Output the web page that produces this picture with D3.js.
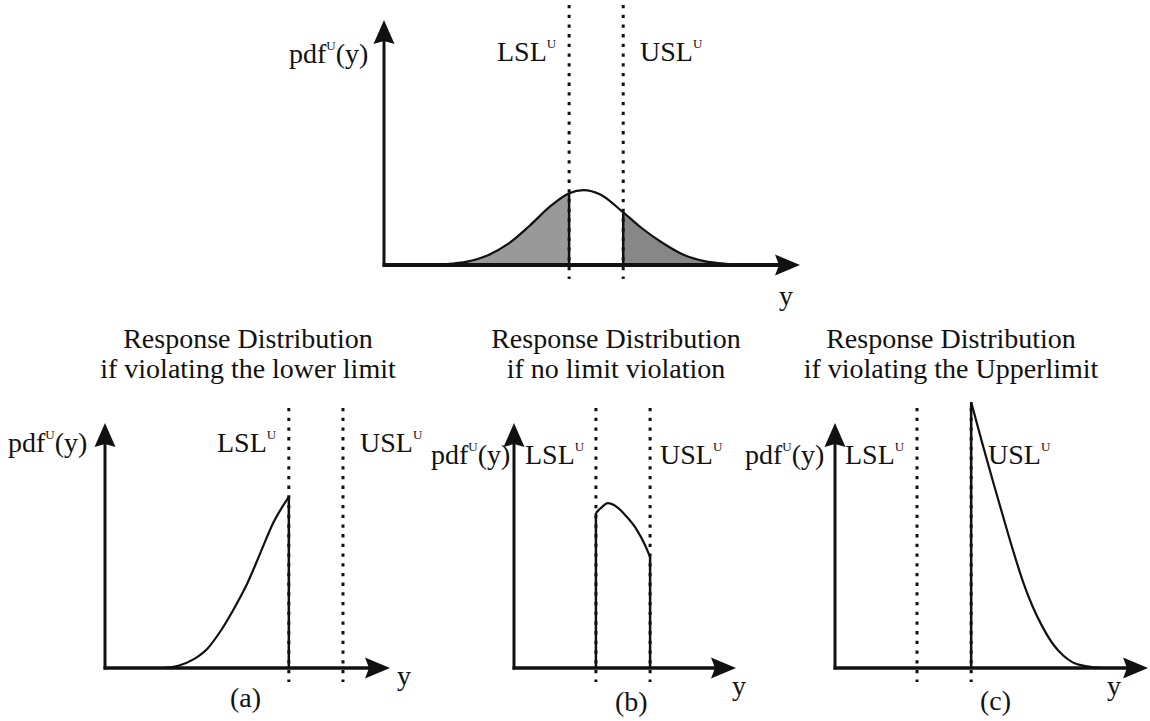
<!DOCTYPE html>
<html>
<head>
<meta charset="utf-8">
<script src="https://cdn.jsdelivr.net/npm/d3@7"></script>
<style>
  body { margin: 0; background: #fff; }
  svg { display: block; }
  text { font-family: "Liberation Serif", "Times New Roman", serif; fill: #111; }
</style>
</head>
<body>
<svg id="chart"></svg>
<script>
// pdf curves, [y, pdf] in axis units (0..10)
const topCurve = [[1.5, 0.04], [2.0, 0.14], [2.5, 0.40], [3.0, 0.88], [3.5, 1.60], [4.0, 2.40],
  [4.45, 2.93], [4.8, 3.06], [5.2, 2.88], [5.75, 2.15], [6.2, 1.50], [6.7, 0.90], [7.2, 0.42],
  [7.7, 0.16], [8.2, 0.05], [8.7, 0.01]];
const curveA = [[2.0, 0], [2.6, 0.1], [3.1, 0.35], [3.6, 0.8], [4.05, 1.5], [4.5, 2.37],
  [5.0, 3.47], [5.45, 4.69], [5.9, 5.92], [6.45, 6.98]];
const curveB = [[3.69, 6.33], [3.96, 6.57], [4.23, 6.73], [4.64, 6.57], [5.09, 6.16],
  [5.54, 5.63], [5.9, 5.02], [6.13, 4.53]];
const curveC = [[4.35, 10.86], [4.7, 9.2], [5.05, 7.6], [5.4, 6.05], [5.7, 4.75], [6.0, 3.55],
  [6.3, 2.55], [6.6, 1.75], [6.98, 0.95], [7.3, 0.5], [7.61, 0.22], [8.0, 0.08], [8.6, 0.0]];

// [LSL, USL] per panel
const topLimits = [4.45, 5.75];
const limitsA = [6.45, 8.35];
const limitsB = [3.69, 6.13];
const limitsC = [2.62, 4.35];

const titles = [
  ["Response Distribution", "if violating the lower limit"],
  ["Response Distribution", "if no limit violation"],
  ["Response Distribution", "if violating the Upperlimit"]
];
const captions = ["(a)", "(b)", "(c)"];

const width = 1150, height = 721;
const fs = 28;

const svg = d3.select('#chart')
    .attr('width', width)
    .attr('height', height)
    .attr('viewBox', [0, 0, width, height]);

function supLabel(g, x, y, base, sup, tail) {
  const t = g.append('text')
      .attr('x', x).attr('y', y)
      .style('font-size', fs + 'px');
  t.append('tspan').text(base);
  t.append('tspan').attr('dy', -13).style('font-size', '13px').text(sup);
  if (tail) t.append('tspan').attr('dy', 13).style('font-size', fs + 'px').text(tail);
  return t;
}

function panel(p) {
  const g = svg.append('g');
  const x = d3.scaleLinear([0, 10], [p.left, p.right]);
  const y = d3.scaleLinear([0, 10], [p.base, p.top]);
  const line = d3.line().x(d => x(d[0])).y(d => y(d[1])).curve(d3.curveMonotoneX);
  const area = d3.area().x(d => x(d[0])).y0(y(0)).y1(d => y(d[1])).curve(d3.curveMonotoneX);
  const [lsl, usl] = p.limits;

  // shaded tails
  if (p.shade) {
    g.append('path').datum(p.curve.filter(d => d[0] <= lsl))
        .attr('d', area).attr('fill', '#999');
    g.append('path').datum(p.curve.filter(d => d[0] >= usl))
        .attr('d', area).attr('fill', '#878787');
  }

  // limit lines
  g.selectAll('line.lim')
    .data(p.limits)
    .join('line')
      .attr('x1', d => x(d)).attr('x2', d => x(d))
      .attr('y1', y(10) - 15).attr('y2', y(0) + 14)
      .attr('stroke', '#111')
      .attr('stroke-width', 3)
      .attr('stroke-dasharray', '3.3 6.4');

  // solid edges where the curve is cut
  g.selectAll('line.edge')
    .data(p.edges)
    .join('line')
      .attr('x1', d => x(d)).attr('x2', d => x(d))
      .attr('y1', y(0))
      .attr('y2', d => y(p.curve.find(c => Math.abs(c[0] - d) < 1e-6)[1]))
      .attr('stroke', '#111')
      .attr('stroke-width', 2.5);

  g.append('path').datum(p.curve)
      .attr('d', line)
      .attr('fill', 'none')
      .attr('stroke', '#111')
      .attr('stroke-width', 2.2);

  // axes with arrowheads
  const tipX = x(10), tipY = y(10), ox = x(0), oy = y(0);
  g.append('line')
      .attr('x1', ox).attr('x2', ox).attr('y1', oy + 1.5).attr('y2', tipY + 18)
      .attr('stroke', '#111').attr('stroke-width', 3);
  g.append('line')
      .attr('x1', ox - 1.5).attr('x2', tipX - 18).attr('y1', oy).attr('y2', oy)
      .attr('stroke', '#111').attr('stroke-width', p.axisW);
  g.append('path')
      .attr('d', `M${ox},${tipY} L${ox + 10.5},${tipY + 24} L${ox},${tipY + 21} L${ox - 10.5},${tipY + 24}Z`)
      .attr('fill', '#111');
  g.append('path')
      .attr('d', `M${tipX},${oy} L${tipX - 25},${oy - 10.5} L${tipX - 21},${oy} L${tipX - 25},${oy + 10.5}Z`)
      .attr('fill', '#111');

  // labels
  supLabel(g, p.pdfX, p.labelY, 'pdf', 'U', '(y)');
  supLabel(g, p.lslX, p.lslY || p.labelY, 'LSL', 'U');
  supLabel(g, p.uslX, p.lslY || p.labelY, 'USL', 'U');
  g.append('text').attr('x', p.yX).attr('y', p.yY)
      .style('font-size', fs + 'px').text('y');

  if (p.title) {
    const t = g.append('text')
        .attr('text-anchor', 'middle')
        .style('font-size', fs + 'px');
    p.title.forEach((s, i) => t.append('tspan')
        .attr('x', p.titleX).attr('y', 348 + i * 30).text(s));
  }
  if (p.caption) {
    g.append('text').attr('x', p.capX).attr('y', p.capY)
        .style('font-size', fs + 'px').text(p.caption);
  }
}

panel({
  left: 384, right: 800, base: 265, top: 20, axisW: 4,
  curve: topCurve, limits: topLimits, edges: topLimits, shade: true,
  pdfX: 289, labelY: 63, lslX: 497, lslY: 61, uslX: 640,
  yX: 779, yY: 305
});
panel({
  left: 105, right: 390, base: 668, top: 423, axisW: 3.5,
  curve: curveA, limits: limitsA, edges: [limitsA[0]],
  pdfX: 8, labelY: 452, lslX: 217, uslX: 360,
  yX: 397, yY: 685,
  title: titles[0], titleX: 248, caption: captions[0], capX: 230, capY: 707
});
panel({
  left: 514, right: 736, base: 668, top: 423, axisW: 3.5,
  curve: curveB, limits: limitsB, edges: limitsB,
  pdfX: 431, labelY: 464, lslX: 525, uslX: 660,
  yX: 732, yY: 695,
  title: titles[1], titleX: 616, caption: captions[1], capX: 615, capY: 711
});
panel({
  left: 835, right: 1148, base: 668, top: 423, axisW: 3.5,
  curve: curveC, limits: limitsC, edges: [limitsC[1]],
  pdfX: 745, labelY: 464, lslX: 845, uslX: 988,
  yX: 1107, yY: 695,
  title: titles[2], titleX: 951, caption: captions[2], capX: 980, capY: 710
});
</script>
</body>
</html>
